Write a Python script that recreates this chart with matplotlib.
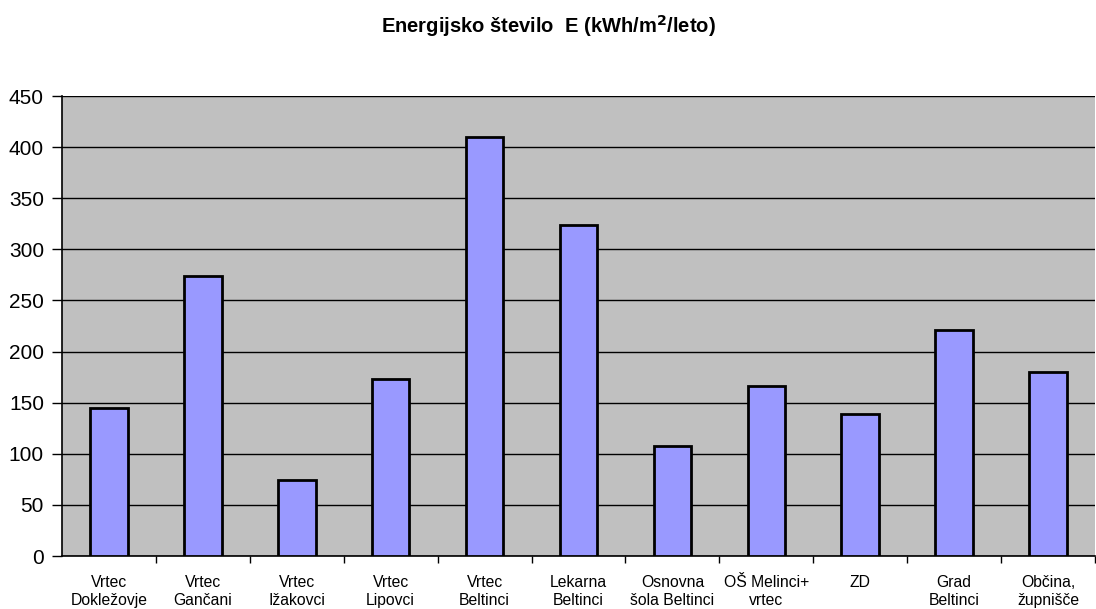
import numpy as np
import matplotlib
matplotlib.use("Agg")
import matplotlib.pyplot as plt

plt.rcParams["font.family"] = ["Liberation Sans", "DejaVu Sans"]

# data
categories = [
    "Vrtec\nDokležovje", "Vrtec\nGančani", "Vrtec\nIžakovci", "Vrtec\nLipovci",
    "Vrtec\nBeltinci", "Lekarna\nBeltinci", "Osnovna\nšola Beltinci",
    "OŠ Melinci+\nvrtec", "ZD", "Grad\nBeltinci", "Občina,\nžupnišče",
]
values = [145, 274, 74, 173, 410, 324, 108, 166, 139, 221, 180]
yticks = [0, 50, 100, 150, 200, 250, 300, 350, 400, 450]

fig = plt.figure(figsize=(10.96, 6.09), dpi=100)
ax = fig.add_axes([62 / 1096, 53 / 609, 1033 / 1096, 460 / 609])
ax.set_facecolor("#C0C0C0")

x = np.arange(len(categories))
ax.bar(x, values, width=0.4, color="#9999FF", edgecolor="black", linewidth=2, zorder=3)

ax.set_xlim(-0.5, len(categories) - 0.5)
ax.set_ylim(0, 450)
ax.set_yticks(yticks)
ax.yaxis.grid(True, color="black", linewidth=1, zorder=1)
ax.tick_params(axis="y", labelsize=15, length=7, width=1, pad=6)

ax.set_xticks(x)
ax.set_xticklabels(categories, fontsize=11.3, linespacing=1.2)
ax.tick_params(axis="x", which="major", length=0, pad=14)
ax.set_xticks(np.arange(len(categories)) + 0.5, minor=True)
ax.tick_params(axis="x", which="minor", length=5, width=1)

for side in ["top", "right"]:
    ax.spines[side].set_visible(False)
ax.spines["left"].set_linewidth(1.2)
ax.spines["bottom"].set_linewidth(1.2)

fig.text(0.5, 1 - 26 / 609, "Energijsko število  E (kWh/m$^\\mathbf{2}$/leto)",
         ha="center", va="center", fontsize=14.5, fontweight="bold")

fig.savefig("out.png", dpi=100, facecolor="white")
